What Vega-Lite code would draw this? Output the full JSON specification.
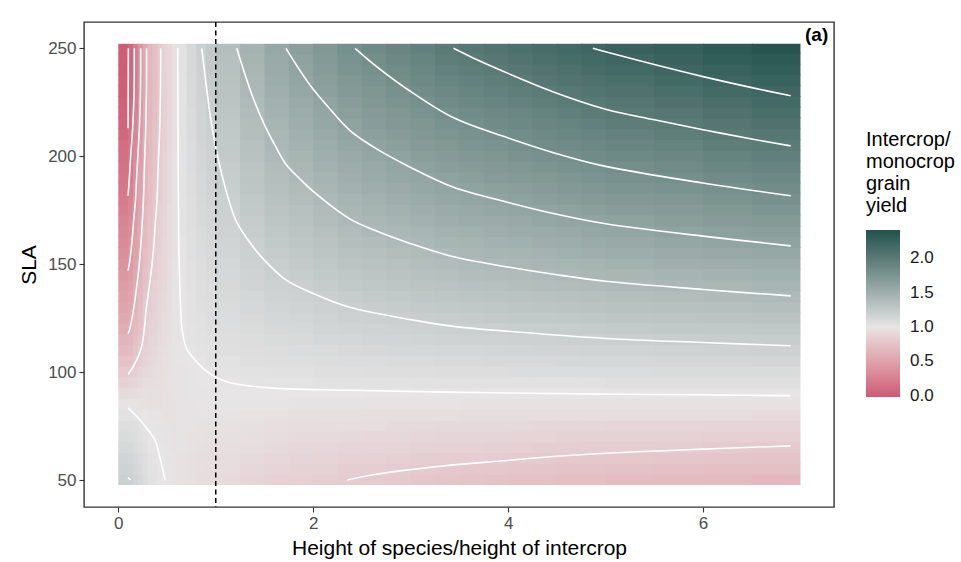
{
"$schema":"https://vega.github.io/schema/vega-lite/v6.json",
"width":750,"height":485,
"autosize":{"type":"none"},
"padding":{"left":84,"top":22,"right":127,"bottom":55},
"background":"white",
"config":{"font":"Liberation Sans","view":{"stroke":"#333333","strokeWidth":1.4},
"axis":{"grid":false,"domain":false,"tickColor":"#333333","tickSize":5,"tickWidth":1.1,"labelFontSize":17,"labelColor":"#4d4d4d","labelPadding":3,"titleFontSize":21,"titleFontWeight":"normal","titleColor":"black"},
"axisX":{"titlePadding":6},"axisY":{"titlePadding":8}},
"datasets":{
"cols":[{"x":0.025,"x0":0,"x1":0.06},{"x":0.075,"x0":0.05,"x1":0.11},{"x":0.125,"x0":0.1,"x1":0.16},{"x":0.175,"x0":0.15,"x1":0.21},{"x":0.225,"x0":0.2,"x1":0.26},{"x":0.275,"x0":0.25,"x1":0.31},{"x":0.325,"x0":0.3,"x1":0.36},{"x":0.375,"x0":0.35,"x1":0.41},{"x":0.425,"x0":0.4,"x1":0.46},{"x":0.475,"x0":0.45,"x1":0.51},{"x":0.525,"x0":0.5,"x1":0.56},{"x":0.575,"x0":0.55,"x1":0.61},{"x":0.65,"x0":0.6,"x1":0.71},{"x":0.75,"x0":0.7,"x1":0.81},{"x":0.85,"x0":0.8,"x1":0.91},{"x":0.95,"x0":0.9,"x1":1.01},{"x":1.125,"x0":1.0,"x1":1.26},{"x":1.375,"x0":1.25,"x1":1.51},{"x":1.625,"x0":1.5,"x1":1.76},{"x":1.875,"x0":1.75,"x1":2.01},{"x":2.125,"x0":2.0,"x1":2.26},{"x":2.375,"x0":2.25,"x1":2.51},{"x":2.625,"x0":2.5,"x1":2.76},{"x":2.875,"x0":2.75,"x1":3.01},{"x":3.125,"x0":3.0,"x1":3.26},{"x":3.375,"x0":3.25,"x1":3.51},{"x":3.625,"x0":3.5,"x1":3.76},{"x":3.875,"x0":3.75,"x1":4.01},{"x":4.125,"x0":4.0,"x1":4.26},{"x":4.375,"x0":4.25,"x1":4.51},{"x":4.625,"x0":4.5,"x1":4.76},{"x":4.875,"x0":4.75,"x1":5.01},{"x":5.25,"x0":5.0,"x1":5.51},{"x":5.75,"x0":5.5,"x1":6.01},{"x":6.25,"x0":6.0,"x1":6.51},{"x":6.75,"x0":6.5,"x1":7.0}],
"rows":[{"y":50,"y0":47.7,"y1":52.9},{"y":55,"y0":52.5,"y1":57.9},{"y":60,"y0":57.5,"y1":62.9},{"y":65,"y0":62.5,"y1":67.9},{"y":70,"y0":67.5,"y1":72.9},{"y":75,"y0":72.5,"y1":77.9},{"y":80,"y0":77.5,"y1":82.9},{"y":85,"y0":82.5,"y1":87.9},{"y":90,"y0":87.5,"y1":92.9},{"y":95,"y0":92.5,"y1":97.9},{"y":100,"y0":97.5,"y1":102.9},{"y":105,"y0":102.5,"y1":107.9},{"y":110,"y0":107.5,"y1":112.9},{"y":115,"y0":112.5,"y1":117.9},{"y":120,"y0":117.5,"y1":122.9},{"y":125,"y0":122.5,"y1":127.9},{"y":130,"y0":127.5,"y1":132.9},{"y":135,"y0":132.5,"y1":137.9},{"y":140,"y0":137.5,"y1":142.9},{"y":145,"y0":142.5,"y1":147.9},{"y":150,"y0":147.5,"y1":152.9},{"y":155,"y0":152.5,"y1":157.9},{"y":160,"y0":157.5,"y1":162.9},{"y":165,"y0":162.5,"y1":167.9},{"y":170,"y0":167.5,"y1":172.9},{"y":175,"y0":172.5,"y1":177.9},{"y":180,"y0":177.5,"y1":182.9},{"y":185,"y0":182.5,"y1":187.9},{"y":190,"y0":187.5,"y1":192.9},{"y":195,"y0":192.5,"y1":197.9},{"y":200,"y0":197.5,"y1":202.9},{"y":205,"y0":202.5,"y1":207.9},{"y":210,"y0":207.5,"y1":212.9},{"y":215,"y0":212.5,"y1":217.9},{"y":220,"y0":217.5,"y1":222.9},{"y":225,"y0":222.5,"y1":227.9},{"y":230,"y0":227.5,"y1":232.9},{"y":235,"y0":232.5,"y1":237.9},{"y":240,"y0":237.5,"y1":242.9},{"y":245,"y0":242.5,"y1":247.9},{"y":250,"y0":247.5,"y1":252.1}],
"cells":[
{"x":0.025,"y":50,"v":1.2},{"x":0.025,"y":55,"v":1.17},{"x":0.025,"y":60,"v":1.15},{"x":0.025,"y":65,"v":1.12},{"x":0.025,"y":70,"v":1.09},{"x":0.025,"y":75,"v":1.06},{"x":0.025,"y":80,"v":1.03},{"x":0.025,"y":85,"v":0.98},{"x":0.025,"y":90,"v":0.92},{"x":0.025,"y":95,"v":0.86},{"x":0.025,"y":100,"v":0.79},{"x":0.025,"y":105,"v":0.73},{"x":0.025,"y":110,"v":0.67},{"x":0.025,"y":115,"v":0.63},{"x":0.025,"y":120,"v":0.58},{"x":0.025,"y":125,"v":0.55},{"x":0.025,"y":130,"v":0.51},{"x":0.025,"y":135,"v":0.48},{"x":0.025,"y":140,"v":0.45},{"x":0.025,"y":145,"v":0.41},{"x":0.025,"y":150,"v":0.38},{"x":0.025,"y":155,"v":0.35},{"x":0.025,"y":160,"v":0.32},{"x":0.025,"y":165,"v":0.3},{"x":0.025,"y":170,"v":0.27},{"x":0.025,"y":175,"v":0.24},{"x":0.025,"y":180,"v":0.21},{"x":0.025,"y":185,"v":0.19},{"x":0.025,"y":190,"v":0.17},{"x":0.025,"y":195,"v":0.15},{"x":0.025,"y":200,"v":0.13},{"x":0.025,"y":205,"v":0.11},{"x":0.025,"y":210,"v":0.08},{"x":0.025,"y":215,"v":0.06},{"x":0.025,"y":220,"v":0.04},{"x":0.025,"y":225,"v":0.03},{"x":0.025,"y":230,"v":0.01},{"x":0.025,"y":235,"v":0.01},{"x":0.025,"y":240,"v":0.0},{"x":0.025,"y":245,"v":0.0},{"x":0.025,"y":250,"v":0.0},
{"x":0.075,"y":50,"v":1.2},{"x":0.075,"y":55,"v":1.17},{"x":0.075,"y":60,"v":1.15},{"x":0.075,"y":65,"v":1.12},{"x":0.075,"y":70,"v":1.09},{"x":0.075,"y":75,"v":1.06},{"x":0.075,"y":80,"v":1.03},{"x":0.075,"y":85,"v":0.98},{"x":0.075,"y":90,"v":0.92},{"x":0.075,"y":95,"v":0.86},{"x":0.075,"y":100,"v":0.79},{"x":0.075,"y":105,"v":0.73},{"x":0.075,"y":110,"v":0.67},{"x":0.075,"y":115,"v":0.63},{"x":0.075,"y":120,"v":0.58},{"x":0.075,"y":125,"v":0.55},{"x":0.075,"y":130,"v":0.51},{"x":0.075,"y":135,"v":0.48},{"x":0.075,"y":140,"v":0.45},{"x":0.075,"y":145,"v":0.41},{"x":0.075,"y":150,"v":0.38},{"x":0.075,"y":155,"v":0.35},{"x":0.075,"y":160,"v":0.32},{"x":0.075,"y":165,"v":0.3},{"x":0.075,"y":170,"v":0.27},{"x":0.075,"y":175,"v":0.24},{"x":0.075,"y":180,"v":0.21},{"x":0.075,"y":185,"v":0.19},{"x":0.075,"y":190,"v":0.17},{"x":0.075,"y":195,"v":0.15},{"x":0.075,"y":200,"v":0.13},{"x":0.075,"y":205,"v":0.11},{"x":0.075,"y":210,"v":0.08},{"x":0.075,"y":215,"v":0.06},{"x":0.075,"y":220,"v":0.04},{"x":0.075,"y":225,"v":0.03},{"x":0.075,"y":230,"v":0.01},{"x":0.075,"y":235,"v":0.01},{"x":0.075,"y":240,"v":0.0},{"x":0.075,"y":245,"v":0.0},{"x":0.075,"y":250,"v":0.0},
{"x":0.125,"y":50,"v":1.19},{"x":0.125,"y":55,"v":1.16},{"x":0.125,"y":60,"v":1.13},{"x":0.125,"y":65,"v":1.11},{"x":0.125,"y":70,"v":1.08},{"x":0.125,"y":75,"v":1.06},{"x":0.125,"y":80,"v":1.03},{"x":0.125,"y":85,"v":0.98},{"x":0.125,"y":90,"v":0.93},{"x":0.125,"y":95,"v":0.87},{"x":0.125,"y":100,"v":0.81},{"x":0.125,"y":105,"v":0.75},{"x":0.125,"y":110,"v":0.69},{"x":0.125,"y":115,"v":0.65},{"x":0.125,"y":120,"v":0.61},{"x":0.125,"y":125,"v":0.58},{"x":0.125,"y":130,"v":0.55},{"x":0.125,"y":135,"v":0.52},{"x":0.125,"y":140,"v":0.49},{"x":0.125,"y":145,"v":0.45},{"x":0.125,"y":150,"v":0.42},{"x":0.125,"y":155,"v":0.4},{"x":0.125,"y":160,"v":0.37},{"x":0.125,"y":165,"v":0.35},{"x":0.125,"y":170,"v":0.32},{"x":0.125,"y":175,"v":0.29},{"x":0.125,"y":180,"v":0.27},{"x":0.125,"y":185,"v":0.25},{"x":0.125,"y":190,"v":0.23},{"x":0.125,"y":195,"v":0.21},{"x":0.125,"y":200,"v":0.19},{"x":0.125,"y":205,"v":0.17},{"x":0.125,"y":210,"v":0.15},{"x":0.125,"y":215,"v":0.13},{"x":0.125,"y":220,"v":0.11},{"x":0.125,"y":225,"v":0.1},{"x":0.125,"y":230,"v":0.08},{"x":0.125,"y":235,"v":0.08},{"x":0.125,"y":240,"v":0.07},{"x":0.125,"y":245,"v":0.07},{"x":0.125,"y":250,"v":0.07},
{"x":0.175,"y":50,"v":1.15},{"x":0.175,"y":55,"v":1.13},{"x":0.175,"y":60,"v":1.11},{"x":0.175,"y":65,"v":1.09},{"x":0.175,"y":70,"v":1.07},{"x":0.175,"y":75,"v":1.05},{"x":0.175,"y":80,"v":1.02},{"x":0.175,"y":85,"v":0.98},{"x":0.175,"y":90,"v":0.94},{"x":0.175,"y":95,"v":0.89},{"x":0.175,"y":100,"v":0.84},{"x":0.175,"y":105,"v":0.79},{"x":0.175,"y":110,"v":0.75},{"x":0.175,"y":115,"v":0.71},{"x":0.175,"y":120,"v":0.68},{"x":0.175,"y":125,"v":0.65},{"x":0.175,"y":130,"v":0.62},{"x":0.175,"y":135,"v":0.6},{"x":0.175,"y":140,"v":0.57},{"x":0.175,"y":145,"v":0.55},{"x":0.175,"y":150,"v":0.52},{"x":0.175,"y":155,"v":0.5},{"x":0.175,"y":160,"v":0.48},{"x":0.175,"y":165,"v":0.46},{"x":0.175,"y":170,"v":0.44},{"x":0.175,"y":175,"v":0.42},{"x":0.175,"y":180,"v":0.39},{"x":0.175,"y":185,"v":0.38},{"x":0.175,"y":190,"v":0.36},{"x":0.175,"y":195,"v":0.35},{"x":0.175,"y":200,"v":0.33},{"x":0.175,"y":205,"v":0.31},{"x":0.175,"y":210,"v":0.29},{"x":0.175,"y":215,"v":0.28},{"x":0.175,"y":220,"v":0.26},{"x":0.175,"y":225,"v":0.25},{"x":0.175,"y":230,"v":0.24},{"x":0.175,"y":235,"v":0.24},{"x":0.175,"y":240,"v":0.23},{"x":0.175,"y":245,"v":0.23},{"x":0.175,"y":250,"v":0.23},
{"x":0.225,"y":50,"v":1.11},{"x":0.225,"y":55,"v":1.1},{"x":0.225,"y":60,"v":1.08},{"x":0.225,"y":65,"v":1.06},{"x":0.225,"y":70,"v":1.05},{"x":0.225,"y":75,"v":1.03},{"x":0.225,"y":80,"v":1.01},{"x":0.225,"y":85,"v":0.97},{"x":0.225,"y":90,"v":0.95},{"x":0.225,"y":95,"v":0.91},{"x":0.225,"y":100,"v":0.87},{"x":0.225,"y":105,"v":0.83},{"x":0.225,"y":110,"v":0.8},{"x":0.225,"y":115,"v":0.77},{"x":0.225,"y":120,"v":0.74},{"x":0.225,"y":125,"v":0.72},{"x":0.225,"y":130,"v":0.7},{"x":0.225,"y":135,"v":0.68},{"x":0.225,"y":140,"v":0.66},{"x":0.225,"y":145,"v":0.64},{"x":0.225,"y":150,"v":0.62},{"x":0.225,"y":155,"v":0.6},{"x":0.225,"y":160,"v":0.58},{"x":0.225,"y":165,"v":0.57},{"x":0.225,"y":170,"v":0.55},{"x":0.225,"y":175,"v":0.53},{"x":0.225,"y":180,"v":0.51},{"x":0.225,"y":185,"v":0.5},{"x":0.225,"y":190,"v":0.49},{"x":0.225,"y":195,"v":0.48},{"x":0.225,"y":200,"v":0.46},{"x":0.225,"y":205,"v":0.45},{"x":0.225,"y":210,"v":0.43},{"x":0.225,"y":215,"v":0.42},{"x":0.225,"y":220,"v":0.41},{"x":0.225,"y":225,"v":0.4},{"x":0.225,"y":230,"v":0.39},{"x":0.225,"y":235,"v":0.39},{"x":0.225,"y":240,"v":0.39},{"x":0.225,"y":245,"v":0.39},{"x":0.225,"y":250,"v":0.39},
{"x":0.275,"y":50,"v":1.08},{"x":0.275,"y":55,"v":1.06},{"x":0.275,"y":60,"v":1.05},{"x":0.275,"y":65,"v":1.04},{"x":0.275,"y":70,"v":1.03},{"x":0.275,"y":75,"v":1.01},{"x":0.275,"y":80,"v":1.0},{"x":0.275,"y":85,"v":0.97},{"x":0.275,"y":90,"v":0.96},{"x":0.275,"y":95,"v":0.93},{"x":0.275,"y":100,"v":0.91},{"x":0.275,"y":105,"v":0.88},{"x":0.275,"y":110,"v":0.85},{"x":0.275,"y":115,"v":0.83},{"x":0.275,"y":120,"v":0.81},{"x":0.275,"y":125,"v":0.8},{"x":0.275,"y":130,"v":0.78},{"x":0.275,"y":135,"v":0.77},{"x":0.275,"y":140,"v":0.75},{"x":0.275,"y":145,"v":0.74},{"x":0.275,"y":150,"v":0.72},{"x":0.275,"y":155,"v":0.71},{"x":0.275,"y":160,"v":0.69},{"x":0.275,"y":165,"v":0.68},{"x":0.275,"y":170,"v":0.67},{"x":0.275,"y":175,"v":0.66},{"x":0.275,"y":180,"v":0.64},{"x":0.275,"y":185,"v":0.64},{"x":0.275,"y":190,"v":0.63},{"x":0.275,"y":195,"v":0.62},{"x":0.275,"y":200,"v":0.61},{"x":0.275,"y":205,"v":0.6},{"x":0.275,"y":210,"v":0.59},{"x":0.275,"y":215,"v":0.58},{"x":0.275,"y":220,"v":0.57},{"x":0.275,"y":225,"v":0.56},{"x":0.275,"y":230,"v":0.55},{"x":0.275,"y":235,"v":0.55},{"x":0.275,"y":240,"v":0.55},{"x":0.275,"y":245,"v":0.55},{"x":0.275,"y":250,"v":0.55},
{"x":0.325,"y":50,"v":1.04},{"x":0.325,"y":55,"v":1.03},{"x":0.325,"y":60,"v":1.02},{"x":0.325,"y":65,"v":1.01},{"x":0.325,"y":70,"v":1.0},{"x":0.325,"y":75,"v":0.99},{"x":0.325,"y":80,"v":0.98},{"x":0.325,"y":85,"v":0.96},{"x":0.325,"y":90,"v":0.95},{"x":0.325,"y":95,"v":0.94},{"x":0.325,"y":100,"v":0.92},{"x":0.325,"y":105,"v":0.9},{"x":0.325,"y":110,"v":0.88},{"x":0.325,"y":115,"v":0.87},{"x":0.325,"y":120,"v":0.85},{"x":0.325,"y":125,"v":0.84},{"x":0.325,"y":130,"v":0.83},{"x":0.325,"y":135,"v":0.82},{"x":0.325,"y":140,"v":0.8},{"x":0.325,"y":145,"v":0.79},{"x":0.325,"y":150,"v":0.78},{"x":0.325,"y":155,"v":0.77},{"x":0.325,"y":160,"v":0.76},{"x":0.325,"y":165,"v":0.75},{"x":0.325,"y":170,"v":0.74},{"x":0.325,"y":175,"v":0.73},{"x":0.325,"y":180,"v":0.72},{"x":0.325,"y":185,"v":0.71},{"x":0.325,"y":190,"v":0.71},{"x":0.325,"y":195,"v":0.7},{"x":0.325,"y":200,"v":0.69},{"x":0.325,"y":205,"v":0.69},{"x":0.325,"y":210,"v":0.68},{"x":0.325,"y":215,"v":0.67},{"x":0.325,"y":220,"v":0.66},{"x":0.325,"y":225,"v":0.66},{"x":0.325,"y":230,"v":0.65},{"x":0.325,"y":235,"v":0.65},{"x":0.325,"y":240,"v":0.65},{"x":0.325,"y":245,"v":0.65},{"x":0.325,"y":250,"v":0.65},
{"x":0.375,"y":50,"v":1.03},{"x":0.375,"y":55,"v":1.02},{"x":0.375,"y":60,"v":1.01},{"x":0.375,"y":65,"v":1.0},{"x":0.375,"y":70,"v":1.0},{"x":0.375,"y":75,"v":0.99},{"x":0.375,"y":80,"v":0.98},{"x":0.375,"y":85,"v":0.96},{"x":0.375,"y":90,"v":0.96},{"x":0.375,"y":95,"v":0.95},{"x":0.375,"y":100,"v":0.93},{"x":0.375,"y":105,"v":0.92},{"x":0.375,"y":110,"v":0.91},{"x":0.375,"y":115,"v":0.89},{"x":0.375,"y":120,"v":0.88},{"x":0.375,"y":125,"v":0.87},{"x":0.375,"y":130,"v":0.86},{"x":0.375,"y":135,"v":0.85},{"x":0.375,"y":140,"v":0.84},{"x":0.375,"y":145,"v":0.83},{"x":0.375,"y":150,"v":0.82},{"x":0.375,"y":155,"v":0.82},{"x":0.375,"y":160,"v":0.81},{"x":0.375,"y":165,"v":0.8},{"x":0.375,"y":170,"v":0.79},{"x":0.375,"y":175,"v":0.78},{"x":0.375,"y":180,"v":0.78},{"x":0.375,"y":185,"v":0.77},{"x":0.375,"y":190,"v":0.77},{"x":0.375,"y":195,"v":0.76},{"x":0.375,"y":200,"v":0.75},{"x":0.375,"y":205,"v":0.75},{"x":0.375,"y":210,"v":0.74},{"x":0.375,"y":215,"v":0.73},{"x":0.375,"y":220,"v":0.73},{"x":0.375,"y":225,"v":0.72},{"x":0.375,"y":230,"v":0.72},{"x":0.375,"y":235,"v":0.72},{"x":0.375,"y":240,"v":0.72},{"x":0.375,"y":245,"v":0.72},{"x":0.375,"y":250,"v":0.72},
{"x":0.425,"y":50,"v":1.01},{"x":0.425,"y":55,"v":1.01},{"x":0.425,"y":60,"v":1.0},{"x":0.425,"y":65,"v":1.0},{"x":0.425,"y":70,"v":0.99},{"x":0.425,"y":75,"v":0.98},{"x":0.425,"y":80,"v":0.98},{"x":0.425,"y":85,"v":0.96},{"x":0.425,"y":90,"v":0.96},{"x":0.425,"y":95,"v":0.96},{"x":0.425,"y":100,"v":0.95},{"x":0.425,"y":105,"v":0.94},{"x":0.425,"y":110,"v":0.93},{"x":0.425,"y":115,"v":0.92},{"x":0.425,"y":120,"v":0.91},{"x":0.425,"y":125,"v":0.9},{"x":0.425,"y":130,"v":0.9},{"x":0.425,"y":135,"v":0.89},{"x":0.425,"y":140,"v":0.88},{"x":0.425,"y":145,"v":0.87},{"x":0.425,"y":150,"v":0.87},{"x":0.425,"y":155,"v":0.86},{"x":0.425,"y":160,"v":0.85},{"x":0.425,"y":165,"v":0.85},{"x":0.425,"y":170,"v":0.84},{"x":0.425,"y":175,"v":0.84},{"x":0.425,"y":180,"v":0.83},{"x":0.425,"y":185,"v":0.83},{"x":0.425,"y":190,"v":0.82},{"x":0.425,"y":195,"v":0.82},{"x":0.425,"y":200,"v":0.81},{"x":0.425,"y":205,"v":0.81},{"x":0.425,"y":210,"v":0.8},{"x":0.425,"y":215,"v":0.8},{"x":0.425,"y":220,"v":0.79},{"x":0.425,"y":225,"v":0.79},{"x":0.425,"y":230,"v":0.79},{"x":0.425,"y":235,"v":0.79},{"x":0.425,"y":240,"v":0.79},{"x":0.425,"y":245,"v":0.79},{"x":0.425,"y":250,"v":0.79},
{"x":0.475,"y":50,"v":1.0},{"x":0.475,"y":55,"v":1.0},{"x":0.475,"y":60,"v":0.99},{"x":0.475,"y":65,"v":0.99},{"x":0.475,"y":70,"v":0.98},{"x":0.475,"y":75,"v":0.98},{"x":0.475,"y":80,"v":0.97},{"x":0.475,"y":85,"v":0.97},{"x":0.475,"y":90,"v":0.97},{"x":0.475,"y":95,"v":0.97},{"x":0.475,"y":100,"v":0.96},{"x":0.475,"y":105,"v":0.96},{"x":0.475,"y":110,"v":0.95},{"x":0.475,"y":115,"v":0.94},{"x":0.475,"y":120,"v":0.94},{"x":0.475,"y":125,"v":0.93},{"x":0.475,"y":130,"v":0.92},{"x":0.475,"y":135,"v":0.92},{"x":0.475,"y":140,"v":0.91},{"x":0.475,"y":145,"v":0.91},{"x":0.475,"y":150,"v":0.9},{"x":0.475,"y":155,"v":0.9},{"x":0.475,"y":160,"v":0.9},{"x":0.475,"y":165,"v":0.89},{"x":0.475,"y":170,"v":0.89},{"x":0.475,"y":175,"v":0.88},{"x":0.475,"y":180,"v":0.88},{"x":0.475,"y":185,"v":0.88},{"x":0.475,"y":190,"v":0.87},{"x":0.475,"y":195,"v":0.87},{"x":0.475,"y":200,"v":0.87},{"x":0.475,"y":205,"v":0.86},{"x":0.475,"y":210,"v":0.86},{"x":0.475,"y":215,"v":0.86},{"x":0.475,"y":220,"v":0.85},{"x":0.475,"y":225,"v":0.85},{"x":0.475,"y":230,"v":0.85},{"x":0.475,"y":235,"v":0.85},{"x":0.475,"y":240,"v":0.85},{"x":0.475,"y":245,"v":0.85},{"x":0.475,"y":250,"v":0.85},
{"x":0.525,"y":50,"v":0.99},{"x":0.525,"y":55,"v":0.99},{"x":0.525,"y":60,"v":0.98},{"x":0.525,"y":65,"v":0.98},{"x":0.525,"y":70,"v":0.98},{"x":0.525,"y":75,"v":0.98},{"x":0.525,"y":80,"v":0.97},{"x":0.525,"y":85,"v":0.97},{"x":0.525,"y":90,"v":0.97},{"x":0.525,"y":95,"v":0.98},{"x":0.525,"y":100,"v":0.97},{"x":0.525,"y":105,"v":0.97},{"x":0.525,"y":110,"v":0.97},{"x":0.525,"y":115,"v":0.96},{"x":0.525,"y":120,"v":0.96},{"x":0.525,"y":125,"v":0.96},{"x":0.525,"y":130,"v":0.95},{"x":0.525,"y":135,"v":0.95},{"x":0.525,"y":140,"v":0.95},{"x":0.525,"y":145,"v":0.94},{"x":0.525,"y":150,"v":0.94},{"x":0.525,"y":155,"v":0.94},{"x":0.525,"y":160,"v":0.93},{"x":0.525,"y":165,"v":0.93},{"x":0.525,"y":170,"v":0.93},{"x":0.525,"y":175,"v":0.93},{"x":0.525,"y":180,"v":0.92},{"x":0.525,"y":185,"v":0.92},{"x":0.525,"y":190,"v":0.92},{"x":0.525,"y":195,"v":0.92},{"x":0.525,"y":200,"v":0.92},{"x":0.525,"y":205,"v":0.91},{"x":0.525,"y":210,"v":0.91},{"x":0.525,"y":215,"v":0.91},{"x":0.525,"y":220,"v":0.91},{"x":0.525,"y":225,"v":0.91},{"x":0.525,"y":230,"v":0.9},{"x":0.525,"y":235,"v":0.9},{"x":0.525,"y":240,"v":0.9},{"x":0.525,"y":245,"v":0.9},{"x":0.525,"y":250,"v":0.9},
{"x":0.575,"y":50,"v":0.98},{"x":0.575,"y":55,"v":0.98},{"x":0.575,"y":60,"v":0.98},{"x":0.575,"y":65,"v":0.97},{"x":0.575,"y":70,"v":0.97},{"x":0.575,"y":75,"v":0.97},{"x":0.575,"y":80,"v":0.97},{"x":0.575,"y":85,"v":0.97},{"x":0.575,"y":90,"v":0.98},{"x":0.575,"y":95,"v":0.98},{"x":0.575,"y":100,"v":0.98},{"x":0.575,"y":105,"v":0.99},{"x":0.575,"y":110,"v":0.99},{"x":0.575,"y":115,"v":0.99},{"x":0.575,"y":120,"v":0.98},{"x":0.575,"y":125,"v":0.98},{"x":0.575,"y":130,"v":0.98},{"x":0.575,"y":135,"v":0.98},{"x":0.575,"y":140,"v":0.98},{"x":0.575,"y":145,"v":0.98},{"x":0.575,"y":150,"v":0.98},{"x":0.575,"y":155,"v":0.97},{"x":0.575,"y":160,"v":0.97},{"x":0.575,"y":165,"v":0.97},{"x":0.575,"y":170,"v":0.97},{"x":0.575,"y":175,"v":0.97},{"x":0.575,"y":180,"v":0.97},{"x":0.575,"y":185,"v":0.97},{"x":0.575,"y":190,"v":0.97},{"x":0.575,"y":195,"v":0.97},{"x":0.575,"y":200,"v":0.97},{"x":0.575,"y":205,"v":0.96},{"x":0.575,"y":210,"v":0.96},{"x":0.575,"y":215,"v":0.96},{"x":0.575,"y":220,"v":0.96},{"x":0.575,"y":225,"v":0.96},{"x":0.575,"y":230,"v":0.96},{"x":0.575,"y":235,"v":0.96},{"x":0.575,"y":240,"v":0.96},{"x":0.575,"y":245,"v":0.96},{"x":0.575,"y":250,"v":0.96},
{"x":0.65,"y":50,"v":0.97},{"x":0.65,"y":55,"v":0.97},{"x":0.65,"y":60,"v":0.97},{"x":0.65,"y":65,"v":0.98},{"x":0.65,"y":70,"v":0.98},{"x":0.65,"y":75,"v":0.98},{"x":0.65,"y":80,"v":0.98},{"x":0.65,"y":85,"v":0.98},{"x":0.65,"y":90,"v":0.98},{"x":0.65,"y":95,"v":0.98},{"x":0.65,"y":100,"v":0.98},{"x":0.65,"y":105,"v":0.99},{"x":0.65,"y":110,"v":0.99},{"x":0.65,"y":115,"v":1.01},{"x":0.65,"y":120,"v":1.01},{"x":0.65,"y":125,"v":1.01},{"x":0.65,"y":130,"v":1.01},{"x":0.65,"y":135,"v":1.01},{"x":0.65,"y":140,"v":1.01},{"x":0.65,"y":145,"v":1.01},{"x":0.65,"y":150,"v":1.01},{"x":0.65,"y":155,"v":1.01},{"x":0.65,"y":160,"v":1.01},{"x":0.65,"y":165,"v":1.02},{"x":0.65,"y":170,"v":1.02},{"x":0.65,"y":175,"v":1.02},{"x":0.65,"y":180,"v":1.02},{"x":0.65,"y":185,"v":1.02},{"x":0.65,"y":190,"v":1.02},{"x":0.65,"y":195,"v":1.02},{"x":0.65,"y":200,"v":1.02},{"x":0.65,"y":205,"v":1.02},{"x":0.65,"y":210,"v":1.02},{"x":0.65,"y":215,"v":1.03},{"x":0.65,"y":220,"v":1.03},{"x":0.65,"y":225,"v":1.03},{"x":0.65,"y":230,"v":1.03},{"x":0.65,"y":235,"v":1.03},{"x":0.65,"y":240,"v":1.03},{"x":0.65,"y":245,"v":1.03},{"x":0.65,"y":250,"v":1.03},
{"x":0.75,"y":50,"v":0.96},{"x":0.75,"y":55,"v":0.96},{"x":0.75,"y":60,"v":0.96},{"x":0.75,"y":65,"v":0.97},{"x":0.75,"y":70,"v":0.97},{"x":0.75,"y":75,"v":0.98},{"x":0.75,"y":80,"v":0.98},{"x":0.75,"y":85,"v":0.98},{"x":0.75,"y":90,"v":0.99},{"x":0.75,"y":95,"v":0.99},{"x":0.75,"y":100,"v":0.99},{"x":0.75,"y":105,"v":1.0},{"x":0.75,"y":110,"v":1.01},{"x":0.75,"y":115,"v":1.02},{"x":0.75,"y":120,"v":1.02},{"x":0.75,"y":125,"v":1.03},{"x":0.75,"y":130,"v":1.03},{"x":0.75,"y":135,"v":1.03},{"x":0.75,"y":140,"v":1.04},{"x":0.75,"y":145,"v":1.04},{"x":0.75,"y":150,"v":1.04},{"x":0.75,"y":155,"v":1.05},{"x":0.75,"y":160,"v":1.05},{"x":0.75,"y":165,"v":1.05},{"x":0.75,"y":170,"v":1.06},{"x":0.75,"y":175,"v":1.06},{"x":0.75,"y":180,"v":1.06},{"x":0.75,"y":185,"v":1.07},{"x":0.75,"y":190,"v":1.07},{"x":0.75,"y":195,"v":1.08},{"x":0.75,"y":200,"v":1.08},{"x":0.75,"y":205,"v":1.08},{"x":0.75,"y":210,"v":1.09},{"x":0.75,"y":215,"v":1.09},{"x":0.75,"y":220,"v":1.09},{"x":0.75,"y":225,"v":1.1},{"x":0.75,"y":230,"v":1.1},{"x":0.75,"y":235,"v":1.1},{"x":0.75,"y":240,"v":1.11},{"x":0.75,"y":245,"v":1.11},{"x":0.75,"y":250,"v":1.11},
{"x":0.85,"y":50,"v":0.94},{"x":0.85,"y":55,"v":0.95},{"x":0.85,"y":60,"v":0.95},{"x":0.85,"y":65,"v":0.96},{"x":0.85,"y":70,"v":0.97},{"x":0.85,"y":75,"v":0.97},{"x":0.85,"y":80,"v":0.98},{"x":0.85,"y":85,"v":0.99},{"x":0.85,"y":90,"v":0.99},{"x":0.85,"y":95,"v":1.0},{"x":0.85,"y":100,"v":1.0},{"x":0.85,"y":105,"v":1.01},{"x":0.85,"y":110,"v":1.02},{"x":0.85,"y":115,"v":1.03},{"x":0.85,"y":120,"v":1.04},{"x":0.85,"y":125,"v":1.04},{"x":0.85,"y":130,"v":1.05},{"x":0.85,"y":135,"v":1.06},{"x":0.85,"y":140,"v":1.06},{"x":0.85,"y":145,"v":1.07},{"x":0.85,"y":150,"v":1.07},{"x":0.85,"y":155,"v":1.08},{"x":0.85,"y":160,"v":1.09},{"x":0.85,"y":165,"v":1.09},{"x":0.85,"y":170,"v":1.1},{"x":0.85,"y":175,"v":1.1},{"x":0.85,"y":180,"v":1.11},{"x":0.85,"y":185,"v":1.12},{"x":0.85,"y":190,"v":1.12},{"x":0.85,"y":195,"v":1.13},{"x":0.85,"y":200,"v":1.13},{"x":0.85,"y":205,"v":1.14},{"x":0.85,"y":210,"v":1.15},{"x":0.85,"y":215,"v":1.15},{"x":0.85,"y":220,"v":1.16},{"x":0.85,"y":225,"v":1.16},{"x":0.85,"y":230,"v":1.17},{"x":0.85,"y":235,"v":1.18},{"x":0.85,"y":240,"v":1.18},{"x":0.85,"y":245,"v":1.19},{"x":0.85,"y":250,"v":1.2},
{"x":0.95,"y":50,"v":0.93},{"x":0.95,"y":55,"v":0.94},{"x":0.95,"y":60,"v":0.95},{"x":0.95,"y":65,"v":0.95},{"x":0.95,"y":70,"v":0.96},{"x":0.95,"y":75,"v":0.97},{"x":0.95,"y":80,"v":0.98},{"x":0.95,"y":85,"v":0.99},{"x":0.95,"y":90,"v":0.99},{"x":0.95,"y":95,"v":1.0},{"x":0.95,"y":100,"v":1.01},{"x":0.95,"y":105,"v":1.03},{"x":0.95,"y":110,"v":1.03},{"x":0.95,"y":115,"v":1.04},{"x":0.95,"y":120,"v":1.05},{"x":0.95,"y":125,"v":1.06},{"x":0.95,"y":130,"v":1.06},{"x":0.95,"y":135,"v":1.07},{"x":0.95,"y":140,"v":1.08},{"x":0.95,"y":145,"v":1.09},{"x":0.95,"y":150,"v":1.1},{"x":0.95,"y":155,"v":1.1},{"x":0.95,"y":160,"v":1.11},{"x":0.95,"y":165,"v":1.12},{"x":0.95,"y":170,"v":1.13},{"x":0.95,"y":175,"v":1.13},{"x":0.95,"y":180,"v":1.14},{"x":0.95,"y":185,"v":1.15},{"x":0.95,"y":190,"v":1.16},{"x":0.95,"y":195,"v":1.17},{"x":0.95,"y":200,"v":1.17},{"x":0.95,"y":205,"v":1.18},{"x":0.95,"y":210,"v":1.19},{"x":0.95,"y":215,"v":1.2},{"x":0.95,"y":220,"v":1.21},{"x":0.95,"y":225,"v":1.21},{"x":0.95,"y":230,"v":1.22},{"x":0.95,"y":235,"v":1.23},{"x":0.95,"y":240,"v":1.24},{"x":0.95,"y":245,"v":1.24},{"x":0.95,"y":250,"v":1.25},
{"x":1.125,"y":50,"v":0.92},{"x":1.125,"y":55,"v":0.93},{"x":1.125,"y":60,"v":0.94},{"x":1.125,"y":65,"v":0.95},{"x":1.125,"y":70,"v":0.96},{"x":1.125,"y":75,"v":0.97},{"x":1.125,"y":80,"v":0.98},{"x":1.125,"y":85,"v":0.99},{"x":1.125,"y":90,"v":1.0},{"x":1.125,"y":95,"v":1.01},{"x":1.125,"y":100,"v":1.02},{"x":1.125,"y":105,"v":1.03},{"x":1.125,"y":110,"v":1.05},{"x":1.125,"y":115,"v":1.06},{"x":1.125,"y":120,"v":1.07},{"x":1.125,"y":125,"v":1.08},{"x":1.125,"y":130,"v":1.09},{"x":1.125,"y":135,"v":1.1},{"x":1.125,"y":140,"v":1.11},{"x":1.125,"y":145,"v":1.12},{"x":1.125,"y":150,"v":1.13},{"x":1.125,"y":155,"v":1.14},{"x":1.125,"y":160,"v":1.15},{"x":1.125,"y":165,"v":1.17},{"x":1.125,"y":170,"v":1.18},{"x":1.125,"y":175,"v":1.19},{"x":1.125,"y":180,"v":1.2},{"x":1.125,"y":185,"v":1.21},{"x":1.125,"y":190,"v":1.22},{"x":1.125,"y":195,"v":1.23},{"x":1.125,"y":200,"v":1.24},{"x":1.125,"y":205,"v":1.25},{"x":1.125,"y":210,"v":1.26},{"x":1.125,"y":215,"v":1.27},{"x":1.125,"y":220,"v":1.28},{"x":1.125,"y":225,"v":1.3},{"x":1.125,"y":230,"v":1.31},{"x":1.125,"y":235,"v":1.32},{"x":1.125,"y":240,"v":1.33},{"x":1.125,"y":245,"v":1.34},{"x":1.125,"y":250,"v":1.35},
{"x":1.375,"y":50,"v":0.89},{"x":1.375,"y":55,"v":0.9},{"x":1.375,"y":60,"v":0.92},{"x":1.375,"y":65,"v":0.93},{"x":1.375,"y":70,"v":0.95},{"x":1.375,"y":75,"v":0.96},{"x":1.375,"y":80,"v":0.97},{"x":1.375,"y":85,"v":0.99},{"x":1.375,"y":90,"v":1.0},{"x":1.375,"y":95,"v":1.02},{"x":1.375,"y":100,"v":1.03},{"x":1.375,"y":105,"v":1.05},{"x":1.375,"y":110,"v":1.06},{"x":1.375,"y":115,"v":1.07},{"x":1.375,"y":120,"v":1.09},{"x":1.375,"y":125,"v":1.1},{"x":1.375,"y":130,"v":1.12},{"x":1.375,"y":135,"v":1.13},{"x":1.375,"y":140,"v":1.15},{"x":1.375,"y":145,"v":1.16},{"x":1.375,"y":150,"v":1.18},{"x":1.375,"y":155,"v":1.19},{"x":1.375,"y":160,"v":1.2},{"x":1.375,"y":165,"v":1.22},{"x":1.375,"y":170,"v":1.23},{"x":1.375,"y":175,"v":1.25},{"x":1.375,"y":180,"v":1.26},{"x":1.375,"y":185,"v":1.28},{"x":1.375,"y":190,"v":1.29},{"x":1.375,"y":195,"v":1.3},{"x":1.375,"y":200,"v":1.32},{"x":1.375,"y":205,"v":1.33},{"x":1.375,"y":210,"v":1.35},{"x":1.375,"y":215,"v":1.36},{"x":1.375,"y":220,"v":1.38},{"x":1.375,"y":225,"v":1.39},{"x":1.375,"y":230,"v":1.41},{"x":1.375,"y":235,"v":1.42},{"x":1.375,"y":240,"v":1.43},{"x":1.375,"y":245,"v":1.45},{"x":1.375,"y":250,"v":1.46},
{"x":1.625,"y":50,"v":0.86},{"x":1.625,"y":55,"v":0.88},{"x":1.625,"y":60,"v":0.9},{"x":1.625,"y":65,"v":0.92},{"x":1.625,"y":70,"v":0.93},{"x":1.625,"y":75,"v":0.95},{"x":1.625,"y":80,"v":0.97},{"x":1.625,"y":85,"v":0.99},{"x":1.625,"y":90,"v":1.0},{"x":1.625,"y":95,"v":1.02},{"x":1.625,"y":100,"v":1.04},{"x":1.625,"y":105,"v":1.06},{"x":1.625,"y":110,"v":1.07},{"x":1.625,"y":115,"v":1.09},{"x":1.625,"y":120,"v":1.11},{"x":1.625,"y":125,"v":1.13},{"x":1.625,"y":130,"v":1.14},{"x":1.625,"y":135,"v":1.16},{"x":1.625,"y":140,"v":1.18},{"x":1.625,"y":145,"v":1.2},{"x":1.625,"y":150,"v":1.21},{"x":1.625,"y":155,"v":1.23},{"x":1.625,"y":160,"v":1.25},{"x":1.625,"y":165,"v":1.27},{"x":1.625,"y":170,"v":1.28},{"x":1.625,"y":175,"v":1.3},{"x":1.625,"y":180,"v":1.32},{"x":1.625,"y":185,"v":1.34},{"x":1.625,"y":190,"v":1.35},{"x":1.625,"y":195,"v":1.37},{"x":1.625,"y":200,"v":1.39},{"x":1.625,"y":205,"v":1.41},{"x":1.625,"y":210,"v":1.42},{"x":1.625,"y":215,"v":1.44},{"x":1.625,"y":220,"v":1.46},{"x":1.625,"y":225,"v":1.47},{"x":1.625,"y":230,"v":1.49},{"x":1.625,"y":235,"v":1.51},{"x":1.625,"y":240,"v":1.53},{"x":1.625,"y":245,"v":1.54},{"x":1.625,"y":250,"v":1.56},
{"x":1.875,"y":50,"v":0.84},{"x":1.875,"y":55,"v":0.86},{"x":1.875,"y":60,"v":0.88},{"x":1.875,"y":65,"v":0.9},{"x":1.875,"y":70,"v":0.92},{"x":1.875,"y":75,"v":0.94},{"x":1.875,"y":80,"v":0.96},{"x":1.875,"y":85,"v":0.98},{"x":1.875,"y":90,"v":1.0},{"x":1.875,"y":95,"v":1.02},{"x":1.875,"y":100,"v":1.04},{"x":1.875,"y":105,"v":1.06},{"x":1.875,"y":110,"v":1.08},{"x":1.875,"y":115,"v":1.1},{"x":1.875,"y":120,"v":1.12},{"x":1.875,"y":125,"v":1.14},{"x":1.875,"y":130,"v":1.16},{"x":1.875,"y":135,"v":1.18},{"x":1.875,"y":140,"v":1.2},{"x":1.875,"y":145,"v":1.22},{"x":1.875,"y":150,"v":1.24},{"x":1.875,"y":155,"v":1.26},{"x":1.875,"y":160,"v":1.28},{"x":1.875,"y":165,"v":1.3},{"x":1.875,"y":170,"v":1.32},{"x":1.875,"y":175,"v":1.34},{"x":1.875,"y":180,"v":1.36},{"x":1.875,"y":185,"v":1.38},{"x":1.875,"y":190,"v":1.4},{"x":1.875,"y":195,"v":1.42},{"x":1.875,"y":200,"v":1.44},{"x":1.875,"y":205,"v":1.46},{"x":1.875,"y":210,"v":1.48},{"x":1.875,"y":215,"v":1.5},{"x":1.875,"y":220,"v":1.52},{"x":1.875,"y":225,"v":1.54},{"x":1.875,"y":230,"v":1.56},{"x":1.875,"y":235,"v":1.58},{"x":1.875,"y":240,"v":1.6},{"x":1.875,"y":245,"v":1.62},{"x":1.875,"y":250,"v":1.64},
{"x":2.125,"y":50,"v":0.83},{"x":2.125,"y":55,"v":0.85},{"x":2.125,"y":60,"v":0.87},{"x":2.125,"y":65,"v":0.89},{"x":2.125,"y":70,"v":0.92},{"x":2.125,"y":75,"v":0.94},{"x":2.125,"y":80,"v":0.96},{"x":2.125,"y":85,"v":0.98},{"x":2.125,"y":90,"v":1.0},{"x":2.125,"y":95,"v":1.03},{"x":2.125,"y":100,"v":1.05},{"x":2.125,"y":105,"v":1.07},{"x":2.125,"y":110,"v":1.09},{"x":2.125,"y":115,"v":1.12},{"x":2.125,"y":120,"v":1.14},{"x":2.125,"y":125,"v":1.16},{"x":2.125,"y":130,"v":1.18},{"x":2.125,"y":135,"v":1.2},{"x":2.125,"y":140,"v":1.23},{"x":2.125,"y":145,"v":1.25},{"x":2.125,"y":150,"v":1.27},{"x":2.125,"y":155,"v":1.29},{"x":2.125,"y":160,"v":1.31},{"x":2.125,"y":165,"v":1.34},{"x":2.125,"y":170,"v":1.36},{"x":2.125,"y":175,"v":1.38},{"x":2.125,"y":180,"v":1.4},{"x":2.125,"y":185,"v":1.43},{"x":2.125,"y":190,"v":1.45},{"x":2.125,"y":195,"v":1.47},{"x":2.125,"y":200,"v":1.49},{"x":2.125,"y":205,"v":1.51},{"x":2.125,"y":210,"v":1.54},{"x":2.125,"y":215,"v":1.56},{"x":2.125,"y":220,"v":1.58},{"x":2.125,"y":225,"v":1.6},{"x":2.125,"y":230,"v":1.63},{"x":2.125,"y":235,"v":1.65},{"x":2.125,"y":240,"v":1.67},{"x":2.125,"y":245,"v":1.69},{"x":2.125,"y":250,"v":1.71},
{"x":2.375,"y":50,"v":0.81},{"x":2.375,"y":55,"v":0.83},{"x":2.375,"y":60,"v":0.86},{"x":2.375,"y":65,"v":0.88},{"x":2.375,"y":70,"v":0.91},{"x":2.375,"y":75,"v":0.93},{"x":2.375,"y":80,"v":0.96},{"x":2.375,"y":85,"v":0.98},{"x":2.375,"y":90,"v":1.0},{"x":2.375,"y":95,"v":1.03},{"x":2.375,"y":100,"v":1.05},{"x":2.375,"y":105,"v":1.08},{"x":2.375,"y":110,"v":1.1},{"x":2.375,"y":115,"v":1.13},{"x":2.375,"y":120,"v":1.15},{"x":2.375,"y":125,"v":1.18},{"x":2.375,"y":130,"v":1.2},{"x":2.375,"y":135,"v":1.22},{"x":2.375,"y":140,"v":1.25},{"x":2.375,"y":145,"v":1.27},{"x":2.375,"y":150,"v":1.3},{"x":2.375,"y":155,"v":1.32},{"x":2.375,"y":160,"v":1.35},{"x":2.375,"y":165,"v":1.37},{"x":2.375,"y":170,"v":1.4},{"x":2.375,"y":175,"v":1.42},{"x":2.375,"y":180,"v":1.44},{"x":2.375,"y":185,"v":1.47},{"x":2.375,"y":190,"v":1.49},{"x":2.375,"y":195,"v":1.52},{"x":2.375,"y":200,"v":1.54},{"x":2.375,"y":205,"v":1.57},{"x":2.375,"y":210,"v":1.59},{"x":2.375,"y":215,"v":1.61},{"x":2.375,"y":220,"v":1.64},{"x":2.375,"y":225,"v":1.66},{"x":2.375,"y":230,"v":1.69},{"x":2.375,"y":235,"v":1.71},{"x":2.375,"y":240,"v":1.74},{"x":2.375,"y":245,"v":1.76},{"x":2.375,"y":250,"v":1.79},
{"x":2.625,"y":50,"v":0.8},{"x":2.625,"y":55,"v":0.82},{"x":2.625,"y":60,"v":0.85},{"x":2.625,"y":65,"v":0.88},{"x":2.625,"y":70,"v":0.9},{"x":2.625,"y":75,"v":0.93},{"x":2.625,"y":80,"v":0.95},{"x":2.625,"y":85,"v":0.98},{"x":2.625,"y":90,"v":1.01},{"x":2.625,"y":95,"v":1.03},{"x":2.625,"y":100,"v":1.06},{"x":2.625,"y":105,"v":1.08},{"x":2.625,"y":110,"v":1.11},{"x":2.625,"y":115,"v":1.14},{"x":2.625,"y":120,"v":1.16},{"x":2.625,"y":125,"v":1.19},{"x":2.625,"y":130,"v":1.21},{"x":2.625,"y":135,"v":1.24},{"x":2.625,"y":140,"v":1.27},{"x":2.625,"y":145,"v":1.29},{"x":2.625,"y":150,"v":1.32},{"x":2.625,"y":155,"v":1.34},{"x":2.625,"y":160,"v":1.37},{"x":2.625,"y":165,"v":1.4},{"x":2.625,"y":170,"v":1.42},{"x":2.625,"y":175,"v":1.45},{"x":2.625,"y":180,"v":1.47},{"x":2.625,"y":185,"v":1.5},{"x":2.625,"y":190,"v":1.53},{"x":2.625,"y":195,"v":1.55},{"x":2.625,"y":200,"v":1.58},{"x":2.625,"y":205,"v":1.6},{"x":2.625,"y":210,"v":1.63},{"x":2.625,"y":215,"v":1.66},{"x":2.625,"y":220,"v":1.68},{"x":2.625,"y":225,"v":1.71},{"x":2.625,"y":230,"v":1.73},{"x":2.625,"y":235,"v":1.76},{"x":2.625,"y":240,"v":1.79},{"x":2.625,"y":245,"v":1.81},{"x":2.625,"y":250,"v":1.84},
{"x":2.875,"y":50,"v":0.79},{"x":2.875,"y":55,"v":0.81},{"x":2.875,"y":60,"v":0.84},{"x":2.875,"y":65,"v":0.87},{"x":2.875,"y":70,"v":0.9},{"x":2.875,"y":75,"v":0.92},{"x":2.875,"y":80,"v":0.95},{"x":2.875,"y":85,"v":0.98},{"x":2.875,"y":90,"v":1.01},{"x":2.875,"y":95,"v":1.03},{"x":2.875,"y":100,"v":1.06},{"x":2.875,"y":105,"v":1.09},{"x":2.875,"y":110,"v":1.12},{"x":2.875,"y":115,"v":1.14},{"x":2.875,"y":120,"v":1.17},{"x":2.875,"y":125,"v":1.2},{"x":2.875,"y":130,"v":1.23},{"x":2.875,"y":135,"v":1.25},{"x":2.875,"y":140,"v":1.28},{"x":2.875,"y":145,"v":1.31},{"x":2.875,"y":150,"v":1.34},{"x":2.875,"y":155,"v":1.36},{"x":2.875,"y":160,"v":1.39},{"x":2.875,"y":165,"v":1.42},{"x":2.875,"y":170,"v":1.45},{"x":2.875,"y":175,"v":1.47},{"x":2.875,"y":180,"v":1.5},{"x":2.875,"y":185,"v":1.53},{"x":2.875,"y":190,"v":1.56},{"x":2.875,"y":195,"v":1.58},{"x":2.875,"y":200,"v":1.61},{"x":2.875,"y":205,"v":1.64},{"x":2.875,"y":210,"v":1.67},{"x":2.875,"y":215,"v":1.7},{"x":2.875,"y":220,"v":1.72},{"x":2.875,"y":225,"v":1.75},{"x":2.875,"y":230,"v":1.78},{"x":2.875,"y":235,"v":1.81},{"x":2.875,"y":240,"v":1.83},{"x":2.875,"y":245,"v":1.86},{"x":2.875,"y":250,"v":1.89},
{"x":3.125,"y":50,"v":0.77},{"x":3.125,"y":55,"v":0.8},{"x":3.125,"y":60,"v":0.83},{"x":3.125,"y":65,"v":0.86},{"x":3.125,"y":70,"v":0.89},{"x":3.125,"y":75,"v":0.92},{"x":3.125,"y":80,"v":0.95},{"x":3.125,"y":85,"v":0.98},{"x":3.125,"y":90,"v":1.01},{"x":3.125,"y":95,"v":1.04},{"x":3.125,"y":100,"v":1.06},{"x":3.125,"y":105,"v":1.09},{"x":3.125,"y":110,"v":1.12},{"x":3.125,"y":115,"v":1.15},{"x":3.125,"y":120,"v":1.18},{"x":3.125,"y":125,"v":1.21},{"x":3.125,"y":130,"v":1.24},{"x":3.125,"y":135,"v":1.27},{"x":3.125,"y":140,"v":1.3},{"x":3.125,"y":145,"v":1.33},{"x":3.125,"y":150,"v":1.36},{"x":3.125,"y":155,"v":1.38},{"x":3.125,"y":160,"v":1.41},{"x":3.125,"y":165,"v":1.44},{"x":3.125,"y":170,"v":1.47},{"x":3.125,"y":175,"v":1.5},{"x":3.125,"y":180,"v":1.53},{"x":3.125,"y":185,"v":1.56},{"x":3.125,"y":190,"v":1.59},{"x":3.125,"y":195,"v":1.62},{"x":3.125,"y":200,"v":1.65},{"x":3.125,"y":205,"v":1.68},{"x":3.125,"y":210,"v":1.71},{"x":3.125,"y":215,"v":1.73},{"x":3.125,"y":220,"v":1.76},{"x":3.125,"y":225,"v":1.79},{"x":3.125,"y":230,"v":1.82},{"x":3.125,"y":235,"v":1.85},{"x":3.125,"y":240,"v":1.88},{"x":3.125,"y":245,"v":1.91},{"x":3.125,"y":250,"v":1.94},
{"x":3.375,"y":50,"v":0.76},{"x":3.375,"y":55,"v":0.79},{"x":3.375,"y":60,"v":0.82},{"x":3.375,"y":65,"v":0.85},{"x":3.375,"y":70,"v":0.88},{"x":3.375,"y":75,"v":0.91},{"x":3.375,"y":80,"v":0.95},{"x":3.375,"y":85,"v":0.98},{"x":3.375,"y":90,"v":1.01},{"x":3.375,"y":95,"v":1.04},{"x":3.375,"y":100,"v":1.07},{"x":3.375,"y":105,"v":1.1},{"x":3.375,"y":110,"v":1.13},{"x":3.375,"y":115,"v":1.16},{"x":3.375,"y":120,"v":1.19},{"x":3.375,"y":125,"v":1.22},{"x":3.375,"y":130,"v":1.25},{"x":3.375,"y":135,"v":1.28},{"x":3.375,"y":140,"v":1.31},{"x":3.375,"y":145,"v":1.34},{"x":3.375,"y":150,"v":1.37},{"x":3.375,"y":155,"v":1.4},{"x":3.375,"y":160,"v":1.44},{"x":3.375,"y":165,"v":1.47},{"x":3.375,"y":170,"v":1.5},{"x":3.375,"y":175,"v":1.53},{"x":3.375,"y":180,"v":1.56},{"x":3.375,"y":185,"v":1.59},{"x":3.375,"y":190,"v":1.62},{"x":3.375,"y":195,"v":1.65},{"x":3.375,"y":200,"v":1.68},{"x":3.375,"y":205,"v":1.71},{"x":3.375,"y":210,"v":1.74},{"x":3.375,"y":215,"v":1.77},{"x":3.375,"y":220,"v":1.8},{"x":3.375,"y":225,"v":1.83},{"x":3.375,"y":230,"v":1.86},{"x":3.375,"y":235,"v":1.9},{"x":3.375,"y":240,"v":1.93},{"x":3.375,"y":245,"v":1.96},{"x":3.375,"y":250,"v":1.99},
{"x":3.625,"y":50,"v":0.75},{"x":3.625,"y":55,"v":0.78},{"x":3.625,"y":60,"v":0.82},{"x":3.625,"y":65,"v":0.85},{"x":3.625,"y":70,"v":0.88},{"x":3.625,"y":75,"v":0.91},{"x":3.625,"y":80,"v":0.94},{"x":3.625,"y":85,"v":0.97},{"x":3.625,"y":90,"v":1.01},{"x":3.625,"y":95,"v":1.04},{"x":3.625,"y":100,"v":1.07},{"x":3.625,"y":105,"v":1.1},{"x":3.625,"y":110,"v":1.13},{"x":3.625,"y":115,"v":1.17},{"x":3.625,"y":120,"v":1.2},{"x":3.625,"y":125,"v":1.23},{"x":3.625,"y":130,"v":1.26},{"x":3.625,"y":135,"v":1.29},{"x":3.625,"y":140,"v":1.33},{"x":3.625,"y":145,"v":1.36},{"x":3.625,"y":150,"v":1.39},{"x":3.625,"y":155,"v":1.42},{"x":3.625,"y":160,"v":1.45},{"x":3.625,"y":165,"v":1.48},{"x":3.625,"y":170,"v":1.52},{"x":3.625,"y":175,"v":1.55},{"x":3.625,"y":180,"v":1.58},{"x":3.625,"y":185,"v":1.61},{"x":3.625,"y":190,"v":1.64},{"x":3.625,"y":195,"v":1.68},{"x":3.625,"y":200,"v":1.71},{"x":3.625,"y":205,"v":1.74},{"x":3.625,"y":210,"v":1.77},{"x":3.625,"y":215,"v":1.8},{"x":3.625,"y":220,"v":1.83},{"x":3.625,"y":225,"v":1.87},{"x":3.625,"y":230,"v":1.9},{"x":3.625,"y":235,"v":1.93},{"x":3.625,"y":240,"v":1.96},{"x":3.625,"y":245,"v":1.99},{"x":3.625,"y":250,"v":2.03},
{"x":3.875,"y":50,"v":0.74},{"x":3.875,"y":55,"v":0.78},{"x":3.875,"y":60,"v":0.81},{"x":3.875,"y":65,"v":0.84},{"x":3.875,"y":70,"v":0.88},{"x":3.875,"y":75,"v":0.91},{"x":3.875,"y":80,"v":0.94},{"x":3.875,"y":85,"v":0.97},{"x":3.875,"y":90,"v":1.01},{"x":3.875,"y":95,"v":1.04},{"x":3.875,"y":100,"v":1.07},{"x":3.875,"y":105,"v":1.11},{"x":3.875,"y":110,"v":1.14},{"x":3.875,"y":115,"v":1.17},{"x":3.875,"y":120,"v":1.2},{"x":3.875,"y":125,"v":1.24},{"x":3.875,"y":130,"v":1.27},{"x":3.875,"y":135,"v":1.3},{"x":3.875,"y":140,"v":1.34},{"x":3.875,"y":145,"v":1.37},{"x":3.875,"y":150,"v":1.4},{"x":3.875,"y":155,"v":1.44},{"x":3.875,"y":160,"v":1.47},{"x":3.875,"y":165,"v":1.5},{"x":3.875,"y":170,"v":1.53},{"x":3.875,"y":175,"v":1.57},{"x":3.875,"y":180,"v":1.6},{"x":3.875,"y":185,"v":1.63},{"x":3.875,"y":190,"v":1.67},{"x":3.875,"y":195,"v":1.7},{"x":3.875,"y":200,"v":1.73},{"x":3.875,"y":205,"v":1.76},{"x":3.875,"y":210,"v":1.8},{"x":3.875,"y":215,"v":1.83},{"x":3.875,"y":220,"v":1.86},{"x":3.875,"y":225,"v":1.9},{"x":3.875,"y":230,"v":1.93},{"x":3.875,"y":235,"v":1.96},{"x":3.875,"y":240,"v":2.0},{"x":3.875,"y":245,"v":2.03},{"x":3.875,"y":250,"v":2.06},
{"x":4.125,"y":50,"v":0.73},{"x":4.125,"y":55,"v":0.77},{"x":4.125,"y":60,"v":0.8},{"x":4.125,"y":65,"v":0.84},{"x":4.125,"y":70,"v":0.87},{"x":4.125,"y":75,"v":0.91},{"x":4.125,"y":80,"v":0.94},{"x":4.125,"y":85,"v":0.97},{"x":4.125,"y":90,"v":1.01},{"x":4.125,"y":95,"v":1.04},{"x":4.125,"y":100,"v":1.08},{"x":4.125,"y":105,"v":1.11},{"x":4.125,"y":110,"v":1.14},{"x":4.125,"y":115,"v":1.18},{"x":4.125,"y":120,"v":1.21},{"x":4.125,"y":125,"v":1.25},{"x":4.125,"y":130,"v":1.28},{"x":4.125,"y":135,"v":1.31},{"x":4.125,"y":140,"v":1.35},{"x":4.125,"y":145,"v":1.38},{"x":4.125,"y":150,"v":1.42},{"x":4.125,"y":155,"v":1.45},{"x":4.125,"y":160,"v":1.48},{"x":4.125,"y":165,"v":1.52},{"x":4.125,"y":170,"v":1.55},{"x":4.125,"y":175,"v":1.59},{"x":4.125,"y":180,"v":1.62},{"x":4.125,"y":185,"v":1.65},{"x":4.125,"y":190,"v":1.69},{"x":4.125,"y":195,"v":1.72},{"x":4.125,"y":200,"v":1.76},{"x":4.125,"y":205,"v":1.79},{"x":4.125,"y":210,"v":1.82},{"x":4.125,"y":215,"v":1.86},{"x":4.125,"y":220,"v":1.89},{"x":4.125,"y":225,"v":1.93},{"x":4.125,"y":230,"v":1.96},{"x":4.125,"y":235,"v":1.99},{"x":4.125,"y":240,"v":2.03},{"x":4.125,"y":245,"v":2.06},{"x":4.125,"y":250,"v":2.1},
{"x":4.375,"y":50,"v":0.73},{"x":4.375,"y":55,"v":0.76},{"x":4.375,"y":60,"v":0.8},{"x":4.375,"y":65,"v":0.83},{"x":4.375,"y":70,"v":0.87},{"x":4.375,"y":75,"v":0.9},{"x":4.375,"y":80,"v":0.94},{"x":4.375,"y":85,"v":0.97},{"x":4.375,"y":90,"v":1.01},{"x":4.375,"y":95,"v":1.04},{"x":4.375,"y":100,"v":1.08},{"x":4.375,"y":105,"v":1.11},{"x":4.375,"y":110,"v":1.15},{"x":4.375,"y":115,"v":1.18},{"x":4.375,"y":120,"v":1.22},{"x":4.375,"y":125,"v":1.25},{"x":4.375,"y":130,"v":1.29},{"x":4.375,"y":135,"v":1.32},{"x":4.375,"y":140,"v":1.36},{"x":4.375,"y":145,"v":1.39},{"x":4.375,"y":150,"v":1.43},{"x":4.375,"y":155,"v":1.46},{"x":4.375,"y":160,"v":1.5},{"x":4.375,"y":165,"v":1.53},{"x":4.375,"y":170,"v":1.57},{"x":4.375,"y":175,"v":1.6},{"x":4.375,"y":180,"v":1.64},{"x":4.375,"y":185,"v":1.67},{"x":4.375,"y":190,"v":1.71},{"x":4.375,"y":195,"v":1.74},{"x":4.375,"y":200,"v":1.78},{"x":4.375,"y":205,"v":1.82},{"x":4.375,"y":210,"v":1.85},{"x":4.375,"y":215,"v":1.89},{"x":4.375,"y":220,"v":1.92},{"x":4.375,"y":225,"v":1.96},{"x":4.375,"y":230,"v":1.99},{"x":4.375,"y":235,"v":2.03},{"x":4.375,"y":240,"v":2.06},{"x":4.375,"y":245,"v":2.1},{"x":4.375,"y":250,"v":2.13},
{"x":4.625,"y":50,"v":0.72},{"x":4.625,"y":55,"v":0.75},{"x":4.625,"y":60,"v":0.79},{"x":4.625,"y":65,"v":0.83},{"x":4.625,"y":70,"v":0.86},{"x":4.625,"y":75,"v":0.9},{"x":4.625,"y":80,"v":0.94},{"x":4.625,"y":85,"v":0.97},{"x":4.625,"y":90,"v":1.01},{"x":4.625,"y":95,"v":1.04},{"x":4.625,"y":100,"v":1.08},{"x":4.625,"y":105,"v":1.12},{"x":4.625,"y":110,"v":1.15},{"x":4.625,"y":115,"v":1.19},{"x":4.625,"y":120,"v":1.22},{"x":4.625,"y":125,"v":1.26},{"x":4.625,"y":130,"v":1.3},{"x":4.625,"y":135,"v":1.33},{"x":4.625,"y":140,"v":1.37},{"x":4.625,"y":145,"v":1.41},{"x":4.625,"y":150,"v":1.44},{"x":4.625,"y":155,"v":1.48},{"x":4.625,"y":160,"v":1.51},{"x":4.625,"y":165,"v":1.55},{"x":4.625,"y":170,"v":1.59},{"x":4.625,"y":175,"v":1.62},{"x":4.625,"y":180,"v":1.66},{"x":4.625,"y":185,"v":1.7},{"x":4.625,"y":190,"v":1.73},{"x":4.625,"y":195,"v":1.77},{"x":4.625,"y":200,"v":1.8},{"x":4.625,"y":205,"v":1.84},{"x":4.625,"y":210,"v":1.88},{"x":4.625,"y":215,"v":1.91},{"x":4.625,"y":220,"v":1.95},{"x":4.625,"y":225,"v":1.99},{"x":4.625,"y":230,"v":2.02},{"x":4.625,"y":235,"v":2.06},{"x":4.625,"y":240,"v":2.09},{"x":4.625,"y":245,"v":2.13},{"x":4.625,"y":250,"v":2.17},
{"x":4.875,"y":50,"v":0.71},{"x":4.875,"y":55,"v":0.75},{"x":4.875,"y":60,"v":0.78},{"x":4.875,"y":65,"v":0.82},{"x":4.875,"y":70,"v":0.86},{"x":4.875,"y":75,"v":0.9},{"x":4.875,"y":80,"v":0.93},{"x":4.875,"y":85,"v":0.97},{"x":4.875,"y":90,"v":1.01},{"x":4.875,"y":95,"v":1.04},{"x":4.875,"y":100,"v":1.08},{"x":4.875,"y":105,"v":1.12},{"x":4.875,"y":110,"v":1.16},{"x":4.875,"y":115,"v":1.19},{"x":4.875,"y":120,"v":1.23},{"x":4.875,"y":125,"v":1.27},{"x":4.875,"y":130,"v":1.31},{"x":4.875,"y":135,"v":1.34},{"x":4.875,"y":140,"v":1.38},{"x":4.875,"y":145,"v":1.42},{"x":4.875,"y":150,"v":1.45},{"x":4.875,"y":155,"v":1.49},{"x":4.875,"y":160,"v":1.53},{"x":4.875,"y":165,"v":1.57},{"x":4.875,"y":170,"v":1.6},{"x":4.875,"y":175,"v":1.64},{"x":4.875,"y":180,"v":1.68},{"x":4.875,"y":185,"v":1.72},{"x":4.875,"y":190,"v":1.75},{"x":4.875,"y":195,"v":1.79},{"x":4.875,"y":200,"v":1.83},{"x":4.875,"y":205,"v":1.86},{"x":4.875,"y":210,"v":1.9},{"x":4.875,"y":215,"v":1.94},{"x":4.875,"y":220,"v":1.98},{"x":4.875,"y":225,"v":2.01},{"x":4.875,"y":230,"v":2.05},{"x":4.875,"y":235,"v":2.09},{"x":4.875,"y":240,"v":2.13},{"x":4.875,"y":245,"v":2.16},{"x":4.875,"y":250,"v":2.2},
{"x":5.25,"y":50,"v":0.7},{"x":5.25,"y":55,"v":0.74},{"x":5.25,"y":60,"v":0.78},{"x":5.25,"y":65,"v":0.82},{"x":5.25,"y":70,"v":0.85},{"x":5.25,"y":75,"v":0.89},{"x":5.25,"y":80,"v":0.93},{"x":5.25,"y":85,"v":0.97},{"x":5.25,"y":90,"v":1.01},{"x":5.25,"y":95,"v":1.05},{"x":5.25,"y":100,"v":1.08},{"x":5.25,"y":105,"v":1.12},{"x":5.25,"y":110,"v":1.16},{"x":5.25,"y":115,"v":1.2},{"x":5.25,"y":120,"v":1.24},{"x":5.25,"y":125,"v":1.28},{"x":5.25,"y":130,"v":1.32},{"x":5.25,"y":135,"v":1.35},{"x":5.25,"y":140,"v":1.39},{"x":5.25,"y":145,"v":1.43},{"x":5.25,"y":150,"v":1.47},{"x":5.25,"y":155,"v":1.51},{"x":5.25,"y":160,"v":1.55},{"x":5.25,"y":165,"v":1.58},{"x":5.25,"y":170,"v":1.62},{"x":5.25,"y":175,"v":1.66},{"x":5.25,"y":180,"v":1.7},{"x":5.25,"y":185,"v":1.74},{"x":5.25,"y":190,"v":1.78},{"x":5.25,"y":195,"v":1.81},{"x":5.25,"y":200,"v":1.85},{"x":5.25,"y":205,"v":1.89},{"x":5.25,"y":210,"v":1.93},{"x":5.25,"y":215,"v":1.97},{"x":5.25,"y":220,"v":2.01},{"x":5.25,"y":225,"v":2.04},{"x":5.25,"y":230,"v":2.08},{"x":5.25,"y":235,"v":2.12},{"x":5.25,"y":240,"v":2.16},{"x":5.25,"y":245,"v":2.2},{"x":5.25,"y":250,"v":2.24},
{"x":5.75,"y":50,"v":0.69},{"x":5.75,"y":55,"v":0.73},{"x":5.75,"y":60,"v":0.77},{"x":5.75,"y":65,"v":0.81},{"x":5.75,"y":70,"v":0.85},{"x":5.75,"y":75,"v":0.89},{"x":5.75,"y":80,"v":0.93},{"x":5.75,"y":85,"v":0.97},{"x":5.75,"y":90,"v":1.01},{"x":5.75,"y":95,"v":1.05},{"x":5.75,"y":100,"v":1.09},{"x":5.75,"y":105,"v":1.13},{"x":5.75,"y":110,"v":1.17},{"x":5.75,"y":115,"v":1.21},{"x":5.75,"y":120,"v":1.25},{"x":5.75,"y":125,"v":1.29},{"x":5.75,"y":130,"v":1.33},{"x":5.75,"y":135,"v":1.37},{"x":5.75,"y":140,"v":1.41},{"x":5.75,"y":145,"v":1.45},{"x":5.75,"y":150,"v":1.49},{"x":5.75,"y":155,"v":1.53},{"x":5.75,"y":160,"v":1.57},{"x":5.75,"y":165,"v":1.61},{"x":5.75,"y":170,"v":1.65},{"x":5.75,"y":175,"v":1.68},{"x":5.75,"y":180,"v":1.72},{"x":5.75,"y":185,"v":1.76},{"x":5.75,"y":190,"v":1.8},{"x":5.75,"y":195,"v":1.84},{"x":5.75,"y":200,"v":1.88},{"x":5.75,"y":205,"v":1.92},{"x":5.75,"y":210,"v":1.96},{"x":5.75,"y":215,"v":2.0},{"x":5.75,"y":220,"v":2.04},{"x":5.75,"y":225,"v":2.08},{"x":5.75,"y":230,"v":2.12},{"x":5.75,"y":235,"v":2.16},{"x":5.75,"y":240,"v":2.2},{"x":5.75,"y":245,"v":2.24},{"x":5.75,"y":250,"v":2.28},
{"x":6.25,"y":50,"v":0.68},{"x":6.25,"y":55,"v":0.72},{"x":6.25,"y":60,"v":0.76},{"x":6.25,"y":65,"v":0.8},{"x":6.25,"y":70,"v":0.84},{"x":6.25,"y":75,"v":0.88},{"x":6.25,"y":80,"v":0.93},{"x":6.25,"y":85,"v":0.97},{"x":6.25,"y":90,"v":1.01},{"x":6.25,"y":95,"v":1.05},{"x":6.25,"y":100,"v":1.09},{"x":6.25,"y":105,"v":1.13},{"x":6.25,"y":110,"v":1.17},{"x":6.25,"y":115,"v":1.22},{"x":6.25,"y":120,"v":1.26},{"x":6.25,"y":125,"v":1.3},{"x":6.25,"y":130,"v":1.34},{"x":6.25,"y":135,"v":1.38},{"x":6.25,"y":140,"v":1.42},{"x":6.25,"y":145,"v":1.46},{"x":6.25,"y":150,"v":1.5},{"x":6.25,"y":155,"v":1.55},{"x":6.25,"y":160,"v":1.59},{"x":6.25,"y":165,"v":1.63},{"x":6.25,"y":170,"v":1.67},{"x":6.25,"y":175,"v":1.71},{"x":6.25,"y":180,"v":1.75},{"x":6.25,"y":185,"v":1.79},{"x":6.25,"y":190,"v":1.83},{"x":6.25,"y":195,"v":1.88},{"x":6.25,"y":200,"v":1.92},{"x":6.25,"y":205,"v":1.96},{"x":6.25,"y":210,"v":2.0},{"x":6.25,"y":215,"v":2.04},{"x":6.25,"y":220,"v":2.08},{"x":6.25,"y":225,"v":2.12},{"x":6.25,"y":230,"v":2.16},{"x":6.25,"y":235,"v":2.21},{"x":6.25,"y":240,"v":2.25},{"x":6.25,"y":245,"v":2.29},{"x":6.25,"y":250,"v":2.33},
{"x":6.75,"y":50,"v":0.67},{"x":6.75,"y":55,"v":0.71},{"x":6.75,"y":60,"v":0.75},{"x":6.75,"y":65,"v":0.8},{"x":6.75,"y":70,"v":0.84},{"x":6.75,"y":75,"v":0.88},{"x":6.75,"y":80,"v":0.92},{"x":6.75,"y":85,"v":0.97},{"x":6.75,"y":90,"v":1.01},{"x":6.75,"y":95,"v":1.05},{"x":6.75,"y":100,"v":1.09},{"x":6.75,"y":105,"v":1.14},{"x":6.75,"y":110,"v":1.18},{"x":6.75,"y":115,"v":1.22},{"x":6.75,"y":120,"v":1.27},{"x":6.75,"y":125,"v":1.31},{"x":6.75,"y":130,"v":1.35},{"x":6.75,"y":135,"v":1.39},{"x":6.75,"y":140,"v":1.44},{"x":6.75,"y":145,"v":1.48},{"x":6.75,"y":150,"v":1.52},{"x":6.75,"y":155,"v":1.56},{"x":6.75,"y":160,"v":1.61},{"x":6.75,"y":165,"v":1.65},{"x":6.75,"y":170,"v":1.69},{"x":6.75,"y":175,"v":1.74},{"x":6.75,"y":180,"v":1.78},{"x":6.75,"y":185,"v":1.82},{"x":6.75,"y":190,"v":1.86},{"x":6.75,"y":195,"v":1.91},{"x":6.75,"y":200,"v":1.95},{"x":6.75,"y":205,"v":1.99},{"x":6.75,"y":210,"v":2.03},{"x":6.75,"y":215,"v":2.08},{"x":6.75,"y":220,"v":2.12},{"x":6.75,"y":225,"v":2.16},{"x":6.75,"y":230,"v":2.2},{"x":6.75,"y":235,"v":2.25},{"x":6.75,"y":240,"v":2.29},{"x":6.75,"y":245,"v":2.33},{"x":6.75,"y":250,"v":2.38}
],
"contours":[
{"id":"A","o":0,"x":0.103,"y":250},{"id":"A","o":1,"x":0.102,"y":232},{"id":"A","o":2,"x":0.1,"y":213},
{"id":"B","o":0,"x":0.164,"y":250},{"id":"B","o":1,"x":0.164,"y":240},{"id":"B","o":2,"x":0.162,"y":230},{"id":"B","o":3,"x":0.154,"y":220},{"id":"B","o":4,"x":0.143,"y":210},{"id":"B","o":5,"x":0.127,"y":200},{"id":"B","o":6,"x":0.114,"y":190},{"id":"B","o":7,"x":0.1,"y":181.7},
{"id":"C","o":0,"x":0.23,"y":250},{"id":"C","o":1,"x":0.23,"y":240},{"id":"C","o":2,"x":0.228,"y":230},{"id":"C","o":3,"x":0.222,"y":220},{"id":"C","o":4,"x":0.213,"y":210},{"id":"C","o":5,"x":0.2,"y":200},{"id":"C","o":6,"x":0.188,"y":190},{"id":"C","o":7,"x":0.177,"y":180},{"id":"C","o":8,"x":0.157,"y":170},{"id":"C","o":9,"x":0.139,"y":160},{"id":"C","o":10,"x":0.113,"y":150},{"id":"C","o":11,"x":0.1,"y":147},
{"id":"D","o":0,"x":0.29,"y":250},{"id":"D","o":1,"x":0.29,"y":240},{"id":"D","o":2,"x":0.289,"y":230},{"id":"D","o":3,"x":0.285,"y":220},{"id":"D","o":4,"x":0.28,"y":210},{"id":"D","o":5,"x":0.272,"y":200},{"id":"D","o":6,"x":0.265,"y":190},{"id":"D","o":7,"x":0.258,"y":180},{"id":"D","o":8,"x":0.246,"y":170},{"id":"D","o":9,"x":0.234,"y":160},{"id":"D","o":10,"x":0.215,"y":150},{"id":"D","o":11,"x":0.19,"y":140},{"id":"D","o":12,"x":0.159,"y":130},{"id":"D","o":13,"x":0.118,"y":120},{"id":"D","o":14,"x":0.1,"y":117.8},
{"id":"E","o":0,"x":0.435,"y":250},{"id":"E","o":1,"x":0.435,"y":240},{"id":"E","o":2,"x":0.433,"y":230},{"id":"E","o":3,"x":0.429,"y":220},{"id":"E","o":4,"x":0.423,"y":210},{"id":"E","o":5,"x":0.413,"y":200},{"id":"E","o":6,"x":0.405,"y":190},{"id":"E","o":7,"x":0.397,"y":180},{"id":"E","o":8,"x":0.381,"y":170},{"id":"E","o":9,"x":0.367,"y":160},{"id":"E","o":10,"x":0.346,"y":150},{"id":"E","o":11,"x":0.319,"y":140},{"id":"E","o":12,"x":0.288,"y":130},{"id":"E","o":13,"x":0.267,"y":120},{"id":"E","o":14,"x":0.228,"y":110},{"id":"E","o":15,"x":0.118,"y":100},{"id":"E","o":16,"x":0.1,"y":99},
{"id":"F","o":0,"x":0.61,"y":250},{"id":"F","o":1,"x":0.612,"y":220},{"id":"F","o":2,"x":0.615,"y":190},{"id":"F","o":3,"x":0.62,"y":161},{"id":"F","o":4,"x":0.632,"y":140},{"id":"F","o":5,"x":0.655,"y":119.5},{"id":"F","o":6,"x":0.7,"y":111},{"id":"F","o":7,"x":0.77,"y":106.5},{"id":"F","o":8,"x":0.907,"y":100.3},{"id":"F","o":9,"x":1.11,"y":95.5},{"id":"F","o":10,"x":1.52,"y":92.8},{"id":"F","o":11,"x":2.38,"y":91.6},{"id":"F","o":12,"x":3.5,"y":90.6},{"id":"F","o":13,"x":5.0,"y":89.8},{"id":"F","o":14,"x":6.9,"y":89.1},
{"id":"F2","o":0,"x":0.1,"y":83.4},{"id":"F2","o":1,"x":0.223,"y":77.8},{"id":"F2","o":2,"x":0.3,"y":73.5},{"id":"F2","o":3,"x":0.377,"y":68.5},{"id":"F2","o":4,"x":0.428,"y":60.2},{"id":"F2","o":5,"x":0.48,"y":50},
{"id":"G","o":0,"x":0.856,"y":250},{"id":"G","o":1,"x":0.95,"y":216.8},{"id":"G","o":2,"x":1.0,"y":204},{"id":"G","o":3,"x":1.125,"y":181},{"id":"G","o":4,"x":1.215,"y":169.5},{"id":"G","o":5,"x":1.375,"y":158.5},{"id":"G","o":6,"x":1.5,"y":151.8},{"id":"G","o":7,"x":1.72,"y":142.7},{"id":"G","o":8,"x":2.0,"y":136.4},{"id":"G","o":9,"x":2.375,"y":130},{"id":"G","o":10,"x":3.0,"y":124.3},{"id":"G","o":11,"x":3.44,"y":121.2},{"id":"G","o":12,"x":4.0,"y":118.9},{"id":"G","o":13,"x":5.0,"y":115.6},{"id":"G","o":14,"x":6.0,"y":113.7},{"id":"G","o":15,"x":6.9,"y":112.2},
{"id":"G2","o":0,"x":0.1,"y":51.2},{"id":"G2","o":1,"x":0.125,"y":50},
{"id":"H","o":0,"x":1.215,"y":250},{"id":"H","o":1,"x":1.375,"y":228},{"id":"H","o":2,"x":1.5,"y":214.5},{"id":"H","o":3,"x":1.625,"y":203.6},{"id":"H","o":4,"x":1.72,"y":196.3},{"id":"H","o":5,"x":1.875,"y":189},{"id":"H","o":6,"x":2.0,"y":183.7},{"id":"H","o":7,"x":2.375,"y":171},{"id":"H","o":8,"x":2.625,"y":165.8},{"id":"H","o":9,"x":3.0,"y":159.5},{"id":"H","o":10,"x":3.44,"y":153.4},{"id":"H","o":11,"x":4.0,"y":148.7},{"id":"H","o":12,"x":4.5,"y":145.1},{"id":"H","o":13,"x":5.0,"y":142.1},{"id":"H","o":14,"x":6.0,"y":138.3},{"id":"H","o":15,"x":6.9,"y":135.3},
{"id":"I","o":0,"x":1.72,"y":250},{"id":"I","o":1,"x":1.875,"y":239},{"id":"I","o":2,"x":2.0,"y":231},{"id":"I","o":3,"x":2.125,"y":224.3},{"id":"I","o":4,"x":2.375,"y":212},{"id":"I","o":5,"x":2.625,"y":204.1},{"id":"I","o":6,"x":3.0,"y":194.8},{"id":"I","o":7,"x":3.44,"y":185.6},{"id":"I","o":8,"x":4.0,"y":178.6},{"id":"I","o":9,"x":4.5,"y":173.1},{"id":"I","o":10,"x":5.0,"y":168.7},{"id":"I","o":11,"x":6.0,"y":163},{"id":"I","o":12,"x":6.9,"y":158.5},
{"id":"J","o":0,"x":2.43,"y":250},{"id":"J","o":1,"x":2.625,"y":242.5},{"id":"J","o":2,"x":3.0,"y":230},{"id":"J","o":3,"x":3.44,"y":217.8},{"id":"J","o":4,"x":4.0,"y":208.5},{"id":"J","o":5,"x":4.5,"y":201.2},{"id":"J","o":6,"x":5.0,"y":195.3},{"id":"J","o":7,"x":6.0,"y":187.6},{"id":"J","o":8,"x":6.9,"y":181.7},
{"id":"K","o":0,"x":3.44,"y":250},{"id":"K","o":1,"x":3.625,"y":245.9},{"id":"K","o":2,"x":4.0,"y":238.4},{"id":"K","o":3,"x":4.5,"y":229.2},{"id":"K","o":4,"x":5.0,"y":221.8},{"id":"K","o":5,"x":5.5,"y":216.9},{"id":"K","o":6,"x":6.0,"y":212.3},{"id":"K","o":7,"x":6.5,"y":208},{"id":"K","o":8,"x":6.9,"y":204.8},
{"id":"L","o":0,"x":4.87,"y":250},{"id":"L","o":1,"x":5.0,"y":248.4},{"id":"L","o":2,"x":5.5,"y":242.5},{"id":"L","o":3,"x":6.0,"y":236.9},{"id":"L","o":4,"x":6.5,"y":231.8},{"id":"L","o":5,"x":6.9,"y":228},
{"id":"M","o":0,"x":2.35,"y":50},{"id":"M","o":1,"x":2.6,"y":52.3},{"id":"M","o":2,"x":3.0,"y":54.8},{"id":"M","o":3,"x":3.44,"y":57},{"id":"M","o":4,"x":3.92,"y":58.8},{"id":"M","o":5,"x":4.5,"y":61},{"id":"M","o":6,"x":5.0,"y":62.4},{"id":"M","o":7,"x":5.5,"y":63.4},{"id":"M","o":8,"x":6.0,"y":64.3},{"id":"M","o":9,"x":6.5,"y":65.2},{"id":"M","o":10,"x":6.9,"y":65.8}
]
},
"layer":[
{"data":{"name":"cells"},
"transform":[{"lookup":"x","from":{"data":{"name":"cols"},"key":"x","fields":["x0","x1"]}},{"lookup":"y","from":{"data":{"name":"rows"},"key":"y","fields":["y0","y1"]}}],
"mark":{"type":"rect"},
"encoding":{
"x":{"field":"x0","type":"quantitative","scale":{"domain":[-0.352,7.344],"nice":false,"zero":false},"axis":{"values":[0,2,4,6],"format":"d","title":"Height of species/height of intercrop"}},
"x2":{"field":"x1"},
"y":{"field":"y0","type":"quantitative","scale":{"domain":[37.5,262.2],"nice":false,"zero":false},"axis":{"values":[50,100,150,200,250],"format":"d","title":"SLA"}},
"y2":{"field":"y1"},
"color":{"field":"v","type":"quantitative","scale":{"domain":[-0.02,1,2.41],"range":["#cd5a74","#e7e5e6","#21524d"],"interpolate":"lab"},
"legend":{"type":"gradient","direction":"vertical","title":["Intercrop/","monocrop","grain","yield"],"orient":"none","legendX":782,"legendY":108,"values":[0,0.5,1,1.5,2],"format":".1f","titleFontSize":20,"titleFontWeight":"normal","titleColor":"black","titleLineHeight":22,"titlePadding":14,"gradientLength":167,"gradientThickness":34,"gradientStrokeWidth":0,"labelFontSize":17,"labelColor":"#1a1a1a","labelOffset":10,"labelOverlap":false,"labelBaseline":"middle"}}
}},
{"data":{"name":"contours"},
"mark":{"type":"line","color":"white","strokeWidth":1.6,"interpolate":"catmull-rom"},
"encoding":{"x":{"field":"x","type":"quantitative","title":"Height of species/height of intercrop"},"y":{"field":"y","type":"quantitative","title":"SLA"},"detail":{"field":"id"},"order":{"field":"o"}}},
{"data":{"values":[{}]},
"mark":{"type":"rule","color":"black","strokeWidth":1.5,"strokeDash":[5,3.5]},
"encoding":{"x":{"datum":1}}},
{"data":{"values":[{}]},
"mark":{"type":"text","text":"(a)","fontWeight":"bold","fontSize":19,"align":"right","baseline":"middle","color":"black"},
"encoding":{"x":{"datum":7.285},"y":{"datum":256.2}}}
]
}
